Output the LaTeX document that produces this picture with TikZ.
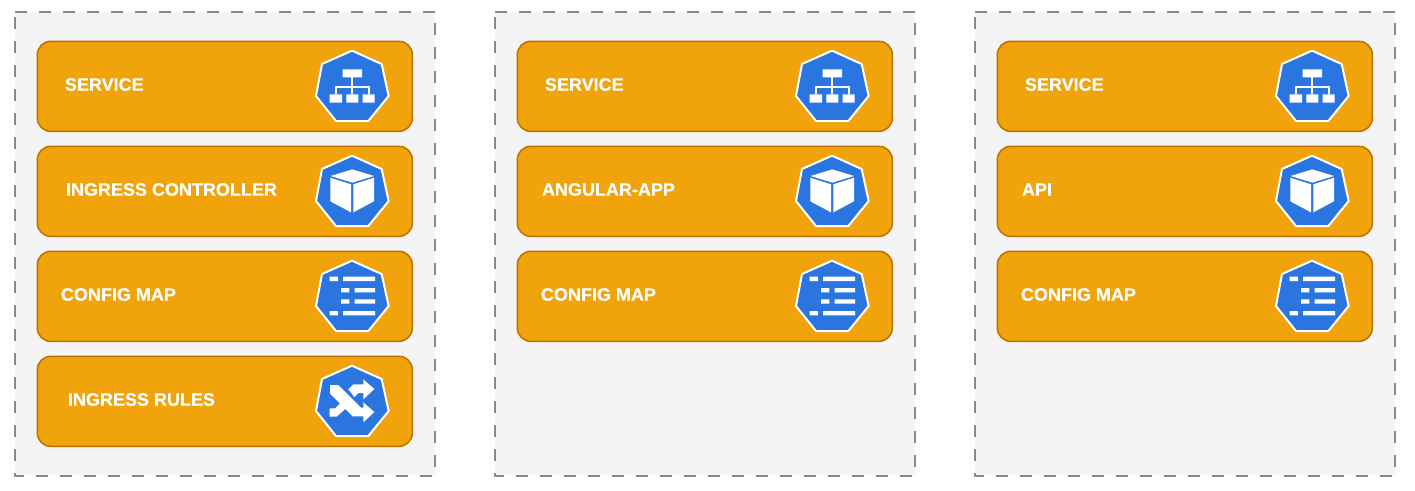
\documentclass[tikz,border=0pt]{standalone}
\usepackage{fontspec}
\setmainfont{Liberation Sans}[BoldFeatures={FakeBold=0.3}]
\definecolor{boxfill}{HTML}{F0A30A}
\definecolor{boxline}{HTML}{BD7000}
\definecolor{kblue}{HTML}{2A75E0}
\definecolor{zone}{HTML}{F4F4F4}
\definecolor{zoneline}{HTML}{8A8A8A}
\tikzset{
  px/.style={x=0.75pt,y=-0.75pt},
  zonebox/.style={fill=zone,draw=none,minimum width=315pt,minimum height=347.6pt,inner sep=0pt,anchor=north west},
  zoneedge/.style={draw=zoneline,line width=1.4pt,dash pattern=on 9pt off 9pt},
  rowbox/.style={draw=boxline,fill=boxfill,line width=1.1pt,rounded corners=10pt,minimum width=281.25pt,minimum height=67.5pt,inner sep=0pt,anchor=north west},
  rowtext/.style={text=white,font=\bfseries\fontsize{13.5pt}{15pt}\selectfont,inner sep=0pt,anchor=west},
  icn/.style={x=0.25pt,y=-0.25pt},
  hep/.style={fill=kblue,draw=white,line width=1.5pt,line join=round},
  hepicon/.pic={
    \path[hep] (156,32)--(245,72)--(266,168)--(205,243)--(108,243)--(48,168)--(66,72)--cycle;
  },
  svcicon/.pic={
    \path pic {hepicon};
    \fill[white] (128,88) rectangle (186,112) (89,163) rectangle (126,188) (139,163) rectangle (175,188) (188,163) rectangle (224,188);
    \draw[white,line width=1.5pt] (157,112)--(157,163) (107,163)--(107,140)--(206,140)--(206,163);
  },
  cubeicon/.pic={
    \path pic {hepicon};
    \fill[white] (157,73)--(222,93)--(157,113)--(92,93)--cycle
      (91,98)--(153,118)--(153,202)--(91,169)--cycle
      (160,118)--(222,98)--(222,169)--(160,202)--cycle;
  },
  mapicon/.pic={
    \path pic {hepicon};
    \fill[white] (89,80) rectangle (114,93) (129,80) rectangle (225,93)
      (123,114) rectangle (148,127) (164,114) rectangle (225,127)
      (123,148) rectangle (148,161) (164,148) rectangle (225,161)
      (89,183) rectangle (114,196) (129,183) rectangle (225,196);
  },
  rulesicon/.pic={
    \path pic {hepicon};
    \fill[white] (90,90)--(115,90)--(183,158)--(190,158)--(190,142)--(223,171)--(190,202)--(190,184)--(158,184)--(90,116)--cycle
      (145,103)--(160,88)--(190,88)--(190,73)--(223,102)--(190,133)--(190,114)--(175,114)--(163,126)--cycle
      (89,160)--(105,160)--(120,145)--(136,162)--(110,185)--(89,185)--cycle;
  }
}
\begin{document}
\begin{tikzpicture}[px]
\useasboundingbox (0,0) rectangle (1415,490);
\foreach \cx/\nm in {0/a,480/b,960/c}{
  \begin{scope}[shift={(\cx,0)}]
    \node[zonebox] (zone\nm) at (14.7,11.7) {};
    \draw[zoneedge] (zone\nm.north west)--(zone\nm.north east)--(zone\nm.south east)--(zone\nm.south west)--cycle;
    \node[rowbox] (svc\nm) at (36.6,40.6) {};
    \node[rowbox] (app\nm) at (36.6,145.6) {};
    \node[rowbox] (map\nm) at (36.6,250.6) {};
    \begin{scope}[shift={(300,40)},icn]
      \path (0,0) pic {svcicon};
      \path (0,315) pic {cubeicon};
      \path (0,630) pic {mapicon};
    \end{scope}
  \end{scope}
}
\node[rowbox] (rules) at (36.6,355.6) {};
\begin{scope}[shift={(300,40)},icn]
  \path (0,945) pic {rulesicon};
\end{scope}
\node[rowtext] (t1) at (64.7,84.5) {SERVICE};
\node[rowtext] (t2) at (65.7,189.5) {INGRESS CONTROLLER};
\node[rowtext] (t3) at (60.7,294.5) {CONFIG MAP};
\node[rowtext] (t4) at (67.7,399.5) {INGRESS RULES};
\node[rowtext] (t5) at (544.7,84.5) {SERVICE};
\node[rowtext] (t6) at (541.7,189.5) {ANGULAR-APP};
\node[rowtext] (t7) at (540.7,294.5) {CONFIG MAP};
\node[rowtext] (t8) at (1024.7,84.5) {SERVICE};
\node[rowtext] (t9) at (1021.7,189.5) {API};
\node[rowtext] (t10) at (1020.7,294.5) {CONFIG MAP};
\end{tikzpicture}
\end{document}
